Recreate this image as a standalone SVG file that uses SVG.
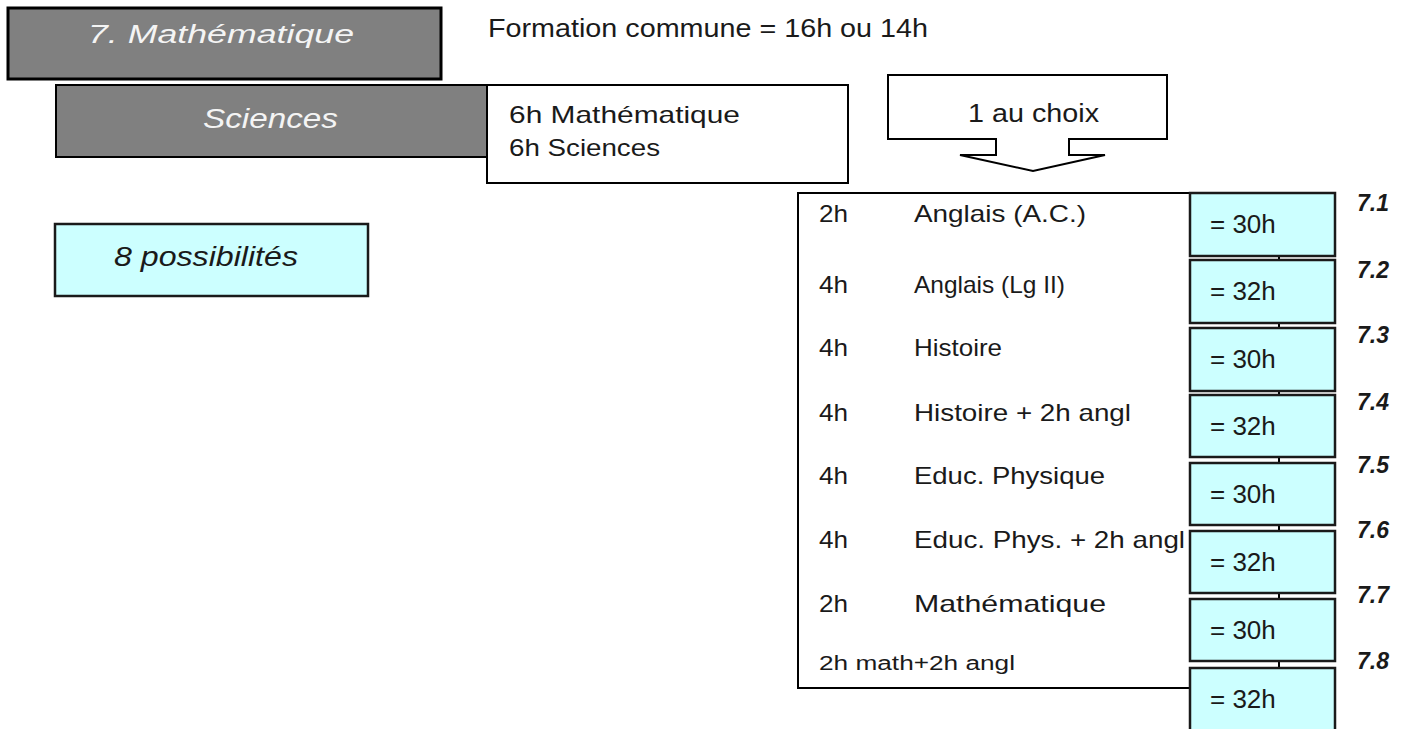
<svg xmlns="http://www.w3.org/2000/svg" width="1409" height="729" viewBox="0 0 1409 729">
<style>
  .t { font-family: "Liberation Sans", Arial, sans-serif; fill: #1a1a1a; }
  .ti { font-family: "Liberation Sans", Arial, sans-serif; font-style: italic; }
  .gray { fill: #808080; stroke: #000; }
  .white { fill: #fff; stroke: #000; stroke-width: 2; }
  .cyan { fill: #ccffff; stroke: #1a1a1a; stroke-width: 2.5; }
  .lbl { font-family: "Liberation Sans", Arial, sans-serif; font-style: italic; font-weight: bold; font-size: 23px; fill: #1a1a1a; }
  .row { font-size: 24px; }
  .res { font-family: "Liberation Sans", Arial, sans-serif; font-size: 26px; fill: #1a1a1a; }
</style>
<rect width="1409" height="729" fill="#fff"/>

<g id="title">
  <rect class="gray" x="8" y="8" width="433" height="71" stroke-width="3"/>
  <text class="ti" x="88" y="43" font-size="26" fill="#f4f4f4" textLength="266" lengthAdjust="spacingAndGlyphs">7. Mathématique</text>
</g>

<g id="formation">
  <text class="t" x="488" y="37" font-size="25" textLength="440" lengthAdjust="spacingAndGlyphs">Formation commune = 16h ou 14h</text>
</g>

<g id="sciences">
  <rect class="gray" x="56" y="85" width="432" height="72" stroke-width="2" stroke="#222"/>
  <text class="ti" x="203" y="128" font-size="28" fill="#f4f4f4" textLength="135" lengthAdjust="spacingAndGlyphs">Sciences</text>
</g>

<g id="commun">
  <rect class="white" x="487" y="85" width="361" height="98"/>
  <text class="t" x="509" y="123" font-size="24" textLength="231" lengthAdjust="spacingAndGlyphs">6h Mathématique</text>
  <text class="t" x="509" y="156" font-size="24" textLength="151" lengthAdjust="spacingAndGlyphs">6h Sciences</text>
</g>

<g id="choix">
  <path d="M888,75 H1167 V139 H1069 V155 H1105 L1033,171 L960,155 H996 V139 H888 Z" fill="#fff" stroke="#000" stroke-width="2" stroke-linejoin="miter"/>
  <text class="t" x="968" y="122" font-size="25" textLength="131" lengthAdjust="spacingAndGlyphs">1 au choix</text>
</g>

<g id="possibilites">
  <rect class="cyan" x="55" y="224" width="313" height="72"/>
  <text class="ti" x="114" y="266" font-size="28" fill="#1a1a1a" textLength="184" lengthAdjust="spacingAndGlyphs">8 possibilités</text>
</g>

<g id="options">
  <rect class="white" x="798" y="193" width="481" height="495"/>
  <g class="t row">
    <text x="819" y="222" textLength="29" lengthAdjust="spacingAndGlyphs">2h</text>
    <text x="914" y="222" textLength="172" lengthAdjust="spacingAndGlyphs">Anglais (A.C.)</text>
    <text x="819" y="293" textLength="29" lengthAdjust="spacingAndGlyphs">4h</text>
    <text x="914" y="293" textLength="151" lengthAdjust="spacingAndGlyphs">Anglais (Lg II)</text>
    <text x="819" y="356" textLength="29" lengthAdjust="spacingAndGlyphs">4h</text>
    <text x="914" y="356" textLength="88" lengthAdjust="spacingAndGlyphs">Histoire</text>
    <text x="819" y="421" textLength="29" lengthAdjust="spacingAndGlyphs">4h</text>
    <text x="914" y="421" textLength="217" lengthAdjust="spacingAndGlyphs">Histoire + 2h angl</text>
    <text x="819" y="484" textLength="29" lengthAdjust="spacingAndGlyphs">4h</text>
    <text x="914" y="484" textLength="191" lengthAdjust="spacingAndGlyphs">Educ. Physique</text>
    <text x="819" y="548" textLength="29" lengthAdjust="spacingAndGlyphs">4h</text>
    <text x="914" y="548" textLength="271" lengthAdjust="spacingAndGlyphs">Educ. Phys. + 2h angl</text>
    <text x="819" y="612" textLength="29" lengthAdjust="spacingAndGlyphs">2h</text>
    <text x="914" y="612" textLength="192" lengthAdjust="spacingAndGlyphs">Mathématique</text>
  </g>
  <text class="t" x="819" y="670" font-size="20" textLength="196" lengthAdjust="spacingAndGlyphs">2h math+2h angl</text>
</g>

<g id="r71"><rect class="cyan" x="1190" y="193" width="145" height="63"/><text class="res" x="1210" y="233">= 30h</text><text class="lbl" x="1357" y="211">7.1</text></g>
<g id="r72"><rect class="cyan" x="1190" y="260" width="145" height="63"/><text class="res" x="1210" y="300">= 32h</text><text class="lbl" x="1357" y="278">7.2</text></g>
<g id="r73"><rect class="cyan" x="1190" y="328" width="145" height="63"/><text class="res" x="1210" y="368">= 30h</text><text class="lbl" x="1357" y="343">7.3</text></g>
<g id="r74"><rect class="cyan" x="1190" y="395" width="145" height="62"/><text class="res" x="1210" y="435">= 32h</text><text class="lbl" x="1357" y="410">7.4</text></g>
<g id="r75"><rect class="cyan" x="1190" y="463" width="145" height="62"/><text class="res" x="1210" y="503">= 30h</text><text class="lbl" x="1357" y="473">7.5</text></g>
<g id="r76"><rect class="cyan" x="1190" y="531" width="145" height="62"/><text class="res" x="1210" y="571">= 32h</text><text class="lbl" x="1357" y="538">7.6</text></g>
<g id="r77"><rect class="cyan" x="1190" y="599" width="145" height="62"/><text class="res" x="1210" y="639">= 30h</text><text class="lbl" x="1357" y="603">7.7</text></g>
<g id="r78"><rect class="cyan" x="1190" y="668" width="145" height="63"/><text class="res" x="1210" y="708">= 32h</text><text class="lbl" x="1357" y="669">7.8</text></g>

<g id="connectors"></g>
</svg>
